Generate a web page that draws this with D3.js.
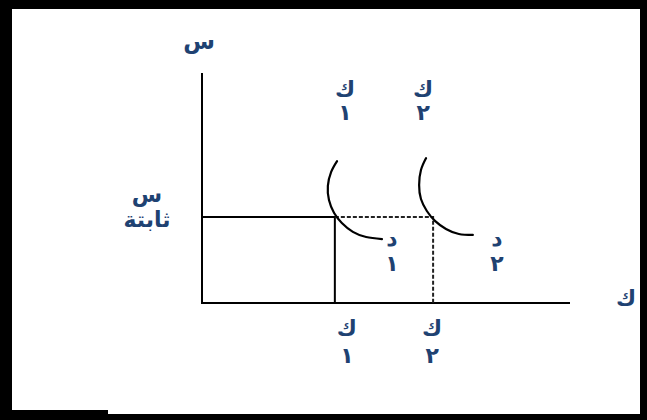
<!DOCTYPE html>
<html>
<head>
<meta charset="utf-8">
<script src="https://cdn.jsdelivr.net/npm/d3@7"></script>
<style>
  html, body { margin: 0; padding: 0; background: #fff; }
  svg { display: block; }
  .lbl { font-family: "DejaVu Sans", sans-serif; font-weight: bold; fill: #1f4272; }
</style>
</head>
<body>
<div id="chart"></div>
<script>
// quantities on the axes (percent of axis length)
const k1 = 36.1
const k2 = 62.8
const sFixed = 37.4

// isoquant curves d1 and d2 as [k, s] points
const curveD1 = [[36.7, 61.7], [35.1, 57.0], [34.2, 50.9], [34.5, 44.8], [35.9, 39.1],
    [38.0, 34.8], [41.0, 30.9], [44.6, 28.7], [48.9, 27.8]]
const curveD2 = [[60.9, 63.0], [59.5, 57.8], [59.0, 51.3], [59.5, 45.2], [61.1, 40.0],
    [63.3, 35.7], [66.3, 32.2], [69.8, 30.0], [73.6, 29.6]]

// labels
const axisY = "س"
const axisX = "ك"
const fixedLabel = ["س", "ثابتة"]
const kLabels = [["ك", "١"], ["ك", "٢"]]
const dLabels = [["د", "١"], ["د", "٢"]]

const width = 647
const height = 420

const svg = d3.select("#chart")
    .append("svg")
    .attr("width", width)
    .attr("height", height)

// frame around the picture
const frame = svg.append("g").attr("fill", "#000")
frame.append("rect").attr("x", 0).attr("y", 0).attr("width", width).attr("height", 9)
frame.append("rect").attr("x", 0).attr("y", 0).attr("width", 12).attr("height", height)
frame.append("rect").attr("x", 640).attr("y", 0).attr("width", 7).attr("height", height)
frame.append("rect").attr("x", 0).attr("y", 414).attr("width", width).attr("height", 6)
frame.append("rect").attr("x", 0).attr("y", 410).attr("width", 108).attr("height", 10)

// scales
const x = d3.scaleLinear().domain([0, 100]).range([202, 570])
const y = d3.scaleLinear().domain([0, 100]).range([303, 73])

// axes (plain lines, no ticks)
svg.append("line")
    .attr("x1", x(0)).attr("x2", x(0))
    .attr("y1", y(0)).attr("y2", y(100))
    .attr("stroke", "#000").attr("stroke-width", 2)
svg.append("line")
    .attr("x1", x(0) - 1).attr("x2", x(100))
    .attr("y1", y(0)).attr("y2", y(0))
    .attr("stroke", "#000").attr("stroke-width", 2)

// solid box for k1
svg.append("path")
    .attr("d", `M${x(0)},${y(sFixed)}H${x(k1)}V${y(0)}`)
    .attr("fill", "none")
    .attr("stroke", "#000")
    .attr("stroke-width", 2)

// dashed box for k2
svg.append("path")
    .attr("d", `M${x(k1)},${y(sFixed)}H${x(k2)}V${y(0)}`)
    .attr("fill", "none")
    .attr("stroke", "#222")
    .attr("stroke-width", 2)
    .attr("stroke-dasharray", "4,2")

// curves
const line = d3.line()
    .x(d => x(d[0]))
    .y(d => y(d[1]))
    .curve(d3.curveNatural)

svg.selectAll(".curve")
    .data([curveD1, curveD2])
    .join("path")
    .attr("class", "curve")
    .attr("d", line)
    .attr("fill", "none")
    .attr("stroke", "#000")
    .attr("stroke-width", 2.2)
    .attr("stroke-linecap", "round")

// helper for two-line labels
function twoLine(cx, cy, lines, gap, size) {
    const g = svg.append("g")
    lines.forEach((t, i) => {
        g.append("text")
            .attr("class", "lbl")
            .attr("x", cx)
            .attr("y", cy + i * gap)
            .attr("text-anchor", "middle")
            .attr("dominant-baseline", "middle")
            .style("font-size", (size || 22) + "px")
            .text(t)
    })
}

// axis titles
svg.append("text").attr("class", "lbl")
    .attr("x", x(0) - 3).attr("y", 42)
    .attr("text-anchor", "middle").attr("dominant-baseline", "middle")
    .style("font-size", "23px").text(axisY)
svg.append("text").attr("class", "lbl")
    .attr("x", 626).attr("y", 300)
    .attr("text-anchor", "middle").attr("dominant-baseline", "middle")
    .style("font-size", "22px").text(axisX)

// fixed s label
twoLine(147, y(sFixed) - 21, fixedLabel, 25, 22)

// k labels above the curves
twoLine(x(curveD1[0][0]) + 8, 91, kLabels[0], 23)
twoLine(x(curveD2[0][0]) - 3, 91, kLabels[1], 23)

// d labels right of the curves
twoLine(x(curveD1[curveD1.length - 1][0]) + 10, 240, dLabels[0], 25)
twoLine(x(curveD2[curveD2.length - 1][0]) + 24, 240, dLabels[1], 25)

// k labels under the axis
twoLine(x(k1) + 12, 330, kLabels[0], 27)
twoLine(x(k2) - 1, 330, kLabels[1], 27)
</script>
</body>
</html>
